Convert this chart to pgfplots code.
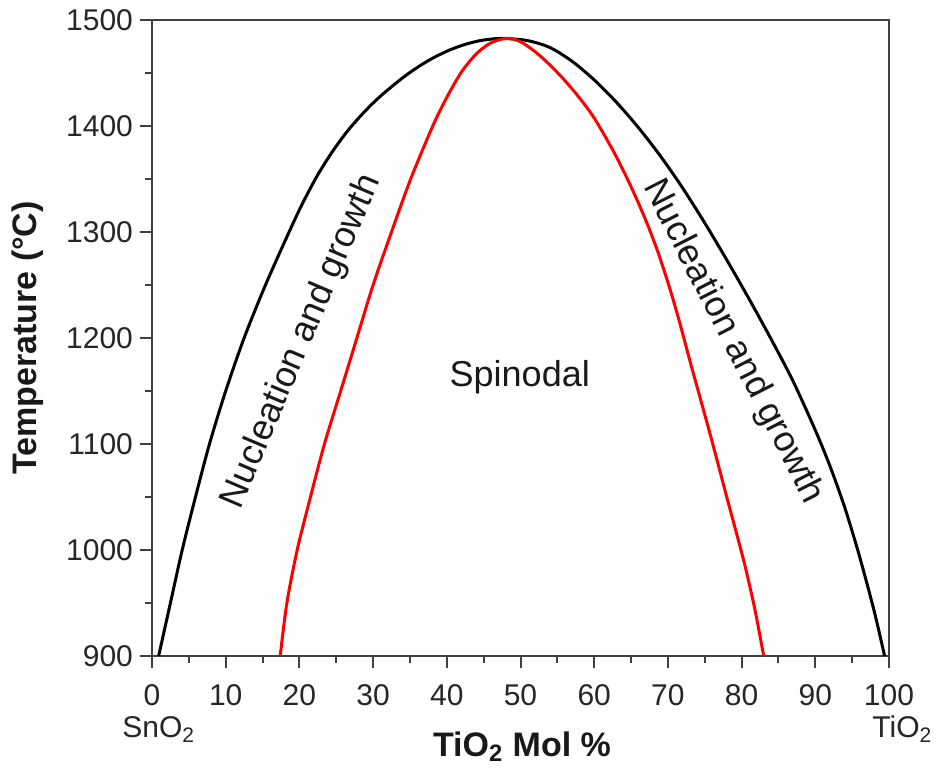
\documentclass[border=0pt]{standalone}
\usepackage{fontspec}
\setmainfont{Liberation Sans}
\usepackage{pgfplots}
\pgfplotsset{compat=1.18}
\begin{document}
\begin{tikzpicture}
\begin{axis}[
  scale only axis, width=368.5pt, height=318pt,
  xmin=0, xmax=100, ymin=900, ymax=1500,
  xtick={0,10,...,100}, ytick={900,1000,...,1500},
  minor x tick num=1, minor y tick num=1,
  tick align=outside, xtick pos=bottom, ytick pos=left,
  major tick length=6pt, minor tick length=3.5pt,
  axis line style={line width=1.2pt, black!75},
  every tick/.style={line width=1pt, black!75},
  tick label style={font=\fontsize{15}{18}\selectfont, text=black!85},
  xticklabel style={yshift=-4.5pt},
  /pgf/number format/assume math mode=true,
  /pgf/number format/1000 sep={},
  xlabel={TiO\textsubscript{2} Mol \%},
  ylabel={Temperature (°C)},
  label style={font=\fontsize{17}{20}\selectfont\bfseries, text=black!90},
  xlabel style={at={(axis description cs:0.502,-0.158)}, anchor=base},
  ylabel style={at={(axis description cs:-0.168,0.5)}, anchor=center},
]
\addplot[black, line width=1.5pt, smooth] coordinates {
(0.9,900) (2.5,950) (4.1,1000) (5.9,1050) (7.8,1100) (10,1150) (12.5,1200)
(15.4,1250) (18.6,1300) (20.5,1328) (22.5,1354) (24.5,1376) (26.5,1395)
(28.5,1411) (30.5,1425) (32.5,1437) (34.5,1448) (36.5,1457.5) (38.5,1465.5)
(40.5,1472) (42.5,1477) (44.5,1480.5) (46.5,1482.3) (48,1482.5)
(51,1480.5) (54,1474) (57,1461) (60,1443.5) (63,1422.5) (66,1398.5) (69,1371.5)
(72,1341.5) (75,1308.5) (78,1273.5) (81,1237) (84,1199) (87,1159) (90,1113)
(92,1079) (94,1040) (96,994) (98,942) (99.4,900)
};
\addplot[red, line width=1.5pt, smooth] coordinates {
(17.4,900) (18.3,950) (19.7,1000) (21.5,1050) (23.4,1100) (25.6,1150) (27.8,1200)
(30.0,1250) (32.5,1300) (35.1,1350) (38.1,1400) (40,1427) (42,1451) (44,1468)
(46,1478.5) (48.2,1482.7) (50,1479.5) (52,1470) (54,1457.5) (56,1443)
(58,1426.5) (60,1407.5) (62.7,1375) (65,1342.7) (67,1311) (68.7,1280)
(70.2,1248) (71.5,1217) (73.2,1173) (75.7,1110) (78.1,1047) (79.3,1016)
(80.5,984) (81.8,944) (83.0,900)
};
\node[rotate=67, font=\fontsize{18}{21}\selectfont, text=black!90] at (axis cs:20.3,1196.5) {Nucleation and growth};
\node[rotate=-63, font=\fontsize{18}{21}\selectfont, text=black!90] at (axis cs:78.8,1196.5) {Nucleation and growth};
\node[anchor=base, font=\fontsize{18}{21}\selectfont, text=black!90] at (axis cs:49.9,1154) {Spinodal};
\coordinate (sw) at (rel axis cs:0,0);
\coordinate (ne) at (rel axis cs:1,1);
\coordinate (se) at (rel axis cs:1,0);
\end{axis}
\node[anchor=base west, inner sep=0pt, font=\fontsize{15}{18}\selectfont, text=black!85] at ([shift={(-15pt,-41pt)}]sw) {SnO\textsubscript{2}};
\node[anchor=base west, inner sep=0pt, font=\fontsize{15}{18}\selectfont, text=black!85] at ([shift={(-8.5pt,-41pt)}]se) {TiO\textsubscript{2}};
\pgfresetboundingbox
\path[use as bounding box] ([shift={(-76pt,-56.5pt)}]sw) rectangle ([shift={(26.5pt,10pt)}]ne);
\end{tikzpicture}
\end{document}
